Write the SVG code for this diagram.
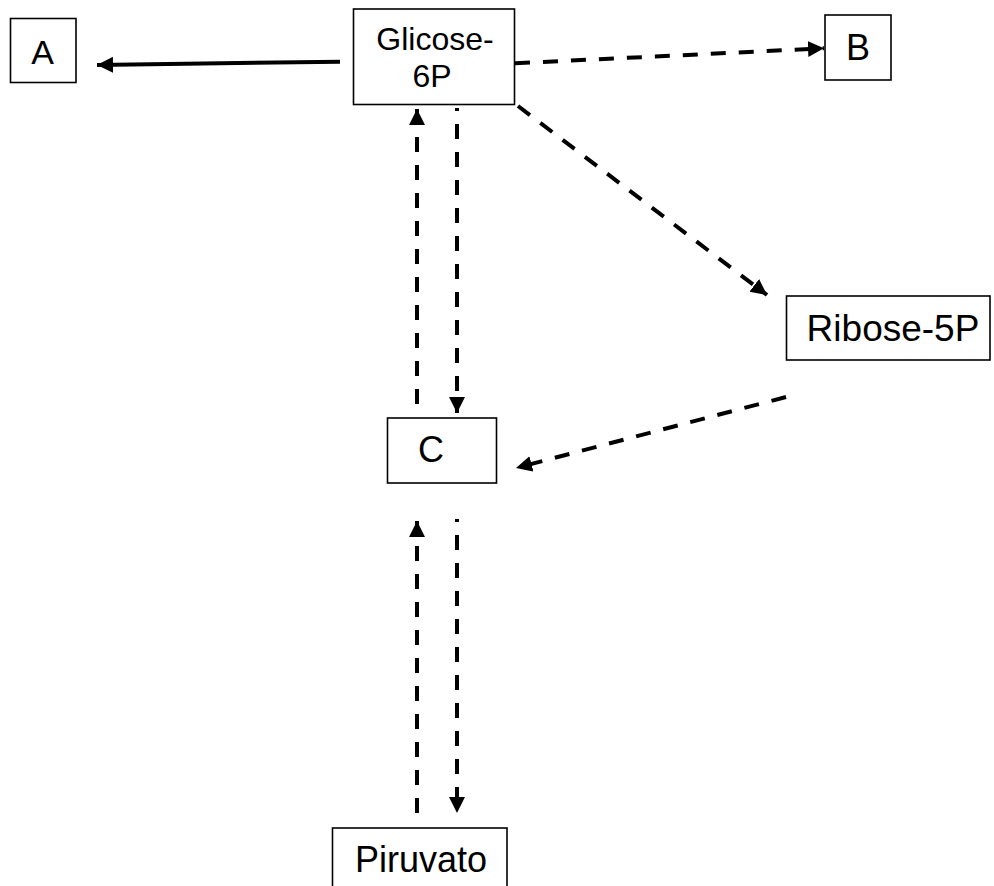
<svg xmlns="http://www.w3.org/2000/svg" width="994" height="886" viewBox="0 0 994 886">
  <defs>
    <style>
      .box { fill: #ffffff; stroke: #000000; stroke-width: 1.6; }
      .lbl { font-family: "Liberation Sans", Arial, sans-serif; fill: #000000; text-anchor: middle; }
      .solid { fill: none; stroke: #000000; stroke-width: 4; }
      .dash { fill: none; stroke: #000000; stroke-width: 4; stroke-dasharray: 15 13; }
    </style>
    <marker id="arrow" markerUnits="userSpaceOnUse" markerWidth="17" markerHeight="17" viewBox="0 0 17 17" refX="16" refY="8" orient="auto">
      <path d="M0,0 L16,8 L0,16 z" fill="#000000"/>
    </marker>
  </defs>
  <rect width="994" height="886" fill="#ffffff"/>

  <g id="connectors">
    <line class="solid" x1="340" y1="61.7" x2="97" y2="65" marker-end="url(#arrow)"/>
    <line class="dash" x1="515" y1="63.3" x2="824" y2="48.3" marker-end="url(#arrow)"/>
    <line class="dash" x1="518" y1="106" x2="767" y2="295" marker-end="url(#arrow)"/>
    <line class="dash" x1="786" y1="397" x2="516" y2="468" marker-end="url(#arrow)"/>
    <line class="dash" x1="417" y1="404" x2="417" y2="109" marker-end="url(#arrow)"/>
    <line class="dash" x1="457" y1="108" x2="457" y2="413" stroke-dashoffset="12" marker-end="url(#arrow)"/>
    <line class="dash" x1="417" y1="813" x2="417" y2="521" marker-end="url(#arrow)"/>
    <line class="dash" x1="457" y1="519" x2="457" y2="813" stroke-dashoffset="12" marker-end="url(#arrow)"/>
  </g>

  <g id="node-A">
    <rect class="box" x="10.5" y="18.5" width="65.5" height="64"/>
    <text class="lbl" x="42.5" y="63.5" font-size="34">A</text>
  </g>
  <g id="node-glicose">
    <rect class="box" x="353.5" y="9" width="161" height="95.5"/>
    <text class="lbl" x="435" y="50" font-size="32">Glicose-</text>
    <text class="lbl" x="432" y="87" font-size="32">6P</text>
  </g>
  <g id="node-B">
    <rect class="box" x="825" y="15" width="66" height="65"/>
    <text class="lbl" x="858" y="60" font-size="36">B</text>
  </g>
  <g id="node-ribose">
    <rect class="box" x="786.5" y="296" width="203.5" height="64"/>
    <text class="lbl" x="893" y="341" font-size="37">Ribose-5P</text>
  </g>
  <g id="node-C">
    <rect class="box" x="387.5" y="418" width="109" height="65"/>
    <text class="lbl" x="431" y="462" font-size="36">C</text>
  </g>
  <g id="node-piruvato">
    <rect class="box" x="332.5" y="828" width="174.5" height="80"/>
    <text class="lbl" x="421" y="872" font-size="36">Piruvato</text>
  </g>
</svg>
